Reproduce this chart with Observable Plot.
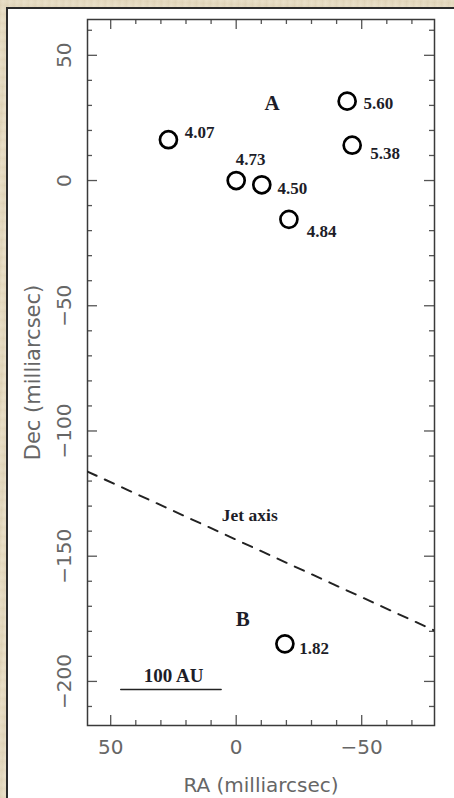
<!DOCTYPE html>
<html>
<head>
<meta charset="utf-8">
<script src="https://cdn.jsdelivr.net/npm/d3@7"></script>
<script src="https://cdn.jsdelivr.net/npm/@observablehq/plot@0.6"></script>
<style>
  html, body { margin: 0; padding: 0; }
  body {
    width: 454px; height: 798px; overflow: hidden; position: relative;
    background-color: #e7dcc2;
    background-image:
      repeating-linear-gradient(93deg, rgba(120,100,60,0.06) 0px, rgba(255,255,255,0.05) 3px, rgba(120,100,60,0.04) 7px),
      repeating-linear-gradient(2deg, rgba(150,120,70,0.05) 0px, rgba(255,255,255,0.06) 4px, rgba(150,120,70,0.03) 9px);
  }
  #panel {
    position: absolute; left: 6px; top: 7px; width: 460px; height: 800px;
    background: #fff; border-left: 2px solid #2a2a2a; border-top: 2px solid #2a2a2a;
  }
  #chart { position: absolute; left: 0; top: 0; }
  #chart svg { background: transparent !important; }
</style>
</head>
<body>
<div id="panel"></div>
<div id="chart"></div>
<script>
// Maser spots (RA, Dec in milliarcsec) and their velocities
const spotRA  = [27, 0, -10.2, -44.2, -46.2, -21, -19.4];
const spotDec = [16.3, 0, -1.7, 31.7, 14.1, -15.5, -185];
const spotVel = ["4.07", "4.73", "4.50", "5.60", "5.38", "4.84", "1.82"];
// label positions for velocities
const velLabelRA  = [14.6, -5.7, -22.4, -56.6, -59.3, -34.0, -31.0];
const velLabelDec = [19.3, 8.4, -3.1, 30.6, 10.6, -20.3, -186.9];

// group labels
const groupNames = ["A", "B"];
const groupRA  = [-14.3, -2.6];
const groupDec = [30.7, -175.0];

// jet axis line
const jetRA  = [59.24, -79.0];
const jetDec = [-116.2, -179.7];
const jetLabel = ["Jet axis"];
const jetLabelRA = [-5.4];
const jetLabelDec = [-133.7];

// scale bar (100 AU)
const barRA  = [46, 6];
const barDec = [-203.2, -203.2];
const barLabel = ["100 AU"];
const barLabelRA = [24.9];
const barLabelDec = [-197.6];

// axes
const xDomain = [59.24, -79.0];
const yDomain = [-217.6, 64.3];
const xMajor = [50, 0, -50];
const xMinor = [40, 30, 20, 10, -10, -20, -30, -40, -60, -70];
const yMajor = [50, 0, -50, -100, -150, -200];
const yMinor = [60, 40, 30, 20, 10, -10, -20, -30, -40, -60, -70, -80, -90,
                -110, -120, -130, -140, -160, -170, -180, -190, -210];
const xTitle = "RA (milliarcsec)";
const yTitle = "Dec (milliarcsec)";

const fmt = d => (d < 0 ? "\u2212" : "") + Math.abs(d);

const W = 454, H = 798;
const mL = 87, mR = 20, mT = 19, mB = 73;
const fw = W - mL - mR, fh = H - mT - mB;

const spots = spotRA.map((x, i) => ({x, y: spotDec[i]}));
const velLabels = spotVel.map((t, i) => ({t, x: velLabelRA[i], y: velLabelDec[i]}));
const groups = groupNames.map((t, i) => ({t, x: groupRA[i], y: groupDec[i]}));
const jet = jetRA.map((x, i) => ({x, y: jetDec[i]}));
const bar = barRA.map((x, i) => ({x, y: barDec[i]}));

const tickColor = "#555";
const serif = "Liberation Serif, Times New Roman, serif";
const sans = "DejaVu Sans, sans-serif";

const chart = Plot.plot({
  width: W, height: H,
  marginLeft: mL, marginRight: mR, marginTop: mT, marginBottom: mB,
  x: {domain: xDomain, axis: null},
  y: {domain: yDomain, axis: null},
  style: {background: "transparent"},
  marks: [
    // ticks: left, right (y), top, bottom (x)
    Plot.tickY(yMajor, {y: d => d, insetRight: fw - 10, stroke: tickColor, strokeWidth: 1.3}),
    Plot.tickY(yMinor, {y: d => d, insetRight: fw - 5, stroke: tickColor, strokeWidth: 1.3}),
    Plot.tickY(yMajor, {y: d => d, insetLeft: fw - 10, stroke: tickColor, strokeWidth: 1.3}),
    Plot.tickY(yMinor, {y: d => d, insetLeft: fw - 5, stroke: tickColor, strokeWidth: 1.3}),
    Plot.tickX(xMajor, {x: d => d, insetBottom: fh - 10, stroke: tickColor, strokeWidth: 1.3}),
    Plot.tickX(xMinor, {x: d => d, insetBottom: fh - 5, stroke: tickColor, strokeWidth: 1.3}),
    Plot.tickX(xMajor, {x: d => d, insetTop: fh - 10, stroke: tickColor, strokeWidth: 1.3}),
    Plot.tickX(xMinor, {x: d => d, insetTop: fh - 5, stroke: tickColor, strokeWidth: 1.3}),
    Plot.frame({stroke: "#3a3a3a", strokeWidth: 1.5}),
    // tick labels
    Plot.text(yMajor, {y: d => d, text: fmt, frameAnchor: "left", dx: -22.5, rotate: -90,
      fontFamily: sans, fontSize: 20, fill: "#666", lineAnchor: "middle", textAnchor: "middle"}),
    Plot.text(xMajor, {x: d => d, text: fmt, frameAnchor: "bottom", dy: 22,
      fontFamily: sans, fontSize: 20, fill: "#666", lineAnchor: "middle", textAnchor: "middle"}),
    // axis titles
    Plot.text([yTitle], {text: d => d, frameAnchor: "left", dx: -54.5, rotate: -90,
      fontFamily: sans, fontSize: 21, fill: "#666", lineAnchor: "middle", textAnchor: "middle",
      letterSpacing: 1.6}),
    Plot.text([xTitle], {text: d => d, frameAnchor: "bottom", dy: 60.5,
      fontFamily: sans, fontSize: 20, fill: "#666", lineAnchor: "middle", textAnchor: "middle"}),
    // jet axis
    Plot.line(jet, {x: "x", y: "y", stroke: "#222", strokeWidth: 2, strokeDasharray: "10,9", clip: true}),
    Plot.text(jetLabel, {x: jetLabelRA, y: jetLabelDec, text: d => d, fontFamily: serif, fontWeight: "bold",
      fontSize: 17.5, fill: "#1d1d28", lineAnchor: "middle"}),
    // scale bar
    Plot.line(bar, {x: "x", y: "y", stroke: "#222", strokeWidth: 1.5}),
    Plot.text(barLabel, {x: barLabelRA, y: barLabelDec, text: d => d, fontFamily: serif, fontWeight: "bold",
      fontSize: 19, fill: "#1d1d28", lineAnchor: "middle"}),
    // spots
    Plot.dot(spots, {x: "x", y: "y", r: 8.5, stroke: "#000", strokeWidth: 2.7, fill: "none"}),
    Plot.text(velLabels, {x: "x", y: "y", text: "t", fontFamily: serif, fontWeight: "bold",
      fontSize: 17, fill: "#1d1d28", lineAnchor: "middle"}),
    Plot.text(groups, {x: "x", y: "y", text: "t", fontFamily: serif, fontWeight: "bold",
      fontSize: 21, fill: "#1d1d28", lineAnchor: "middle"})
  ]
});
document.getElementById("chart").appendChild(chart);
</script>
</body>
</html>
